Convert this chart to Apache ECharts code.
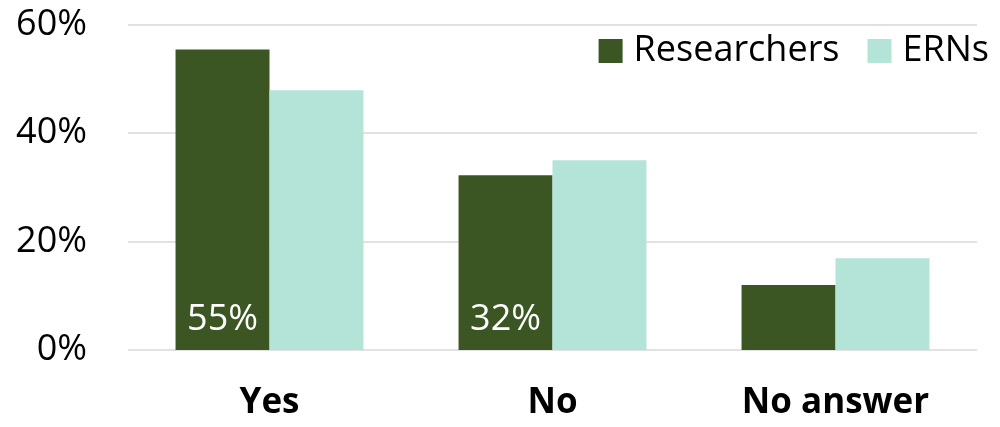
<!DOCTYPE html>
<html><head><meta charset="utf-8">
<script src="https://cdn.jsdelivr.net/npm/echarts@6/dist/echarts.min.js"></script>
<style>html,body{margin:0;padding:0;background:#fff}#c{width:1000px;height:427px}</style>
</head><body><div id="c"></div>
<script>
var categories = ['Yes', 'No', 'No answer'];
var researchers = [55.4, 32.2, 12.0];
var erns = [47.9, 35.0, 16.9];
var labelled = [true, true, false];
var yTicks = [0, 20, 40, 60];

var font = "'Open Sans', 'Noto Sans', sans-serif";
var chart = echarts.init(document.getElementById('c'));
chart.setOption({
  animation: false,
  textStyle: { fontFamily: font },
  grid: { left: 128, right: 23, top: 24.5, bottom: 77 },
  legend: {
    data: ['Researchers', 'ERNs'],
    right: 6, top: 28,
    itemWidth: 24, itemHeight: 24, itemGap: 28,
    icon: 'rect',
    textStyle: { fontSize: 36, color: '#000', fontFamily: font, padding: [0, 0, 0, 6] }
  },
  xAxis: {
    type: 'category', data: categories,
    axisLine: { show: false }, axisTick: { show: false },
    axisLabel: { fontSize: 35, fontWeight: 'bold', color: '#000', margin: 36, fontFamily: font }
  },
  yAxis: {
    type: 'value', min: 0, max: 60, interval: 20,
    axisLabel: { formatter: '{value}%', fontSize: 36, color: '#000', margin: 41, fontFamily: font },
    splitLine: { lineStyle: { color: '#d9d9d9', width: 1.5 } },
    axisLine: { show: false }, axisTick: { show: false }
  },
  series: [
    {
      name: 'Researchers', type: 'bar', barGap: '0%', barCategoryGap: '33.6%',
      itemStyle: { color: '#3b5623' },
      data: researchers.map(function (v, i) {
        return {
          value: v,
          label: {
            show: labelled[i], position: 'insideBottom', distance: 12,
            formatter: function (p) { return Math.round(p.value) + '%'; },
            color: '#fff', fontSize: 36, fontFamily: font
          }
        };
      })
    },
    {
      name: 'ERNs', type: 'bar', barGap: '0%', barCategoryGap: '33.6%',
      itemStyle: { color: '#b4e3d8' },
      data: erns
    }
  ]
});
</script></body></html>
